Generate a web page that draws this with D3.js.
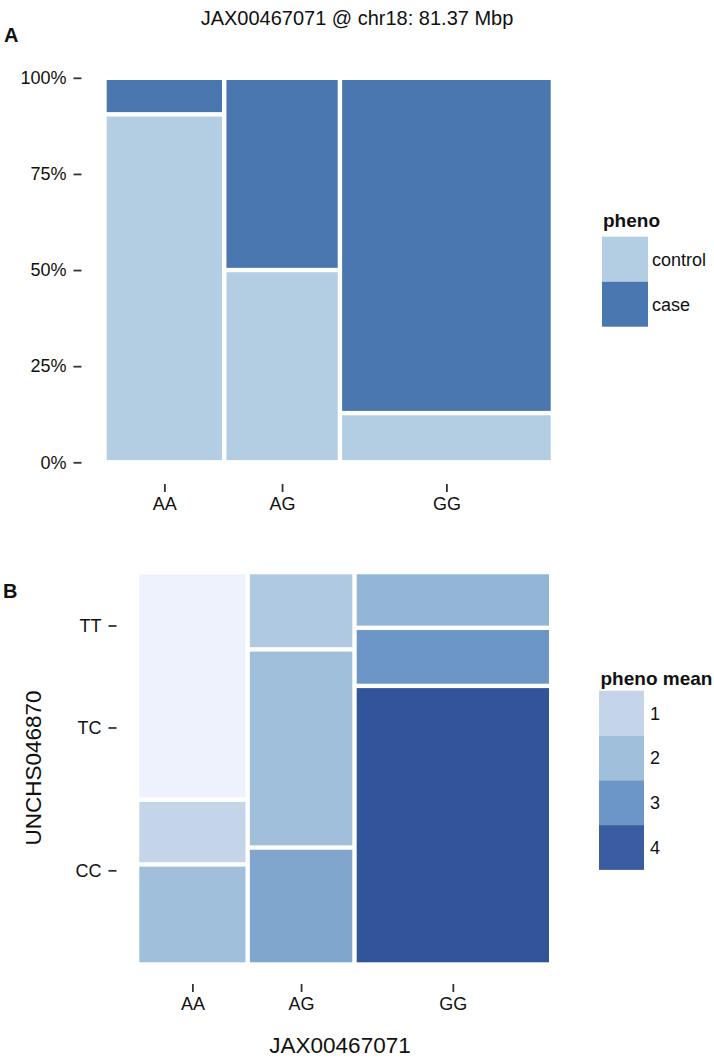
<!DOCTYPE html>
<html>
<head>
<meta charset="utf-8">
<script src="https://cdn.jsdelivr.net/npm/d3@7"></script>
<style>
  body { margin: 0; background: #fff; }
  svg { display: block; }
  text { font-family: "Liberation Sans", Arial, Helvetica, sans-serif; fill: #111; }
</style>
</head>
<body>
<svg id="chart" width="714" height="1064"></svg>
<script>
// ---------- data ----------
const titleText = "JAX00467071 @ chr18: 81.37 Mbp";
const genotypes = ["AA", "AG", "GG"];            // JAX00467071
const colShare = [0.267, 0.258, 0.475];          // column widths (share of animals)

// Panel A
const phenoLevels = ["control", "case"];
const controlShare = [0.905, 0.50, 0.128];       // share of control within each genotype
const pctTicks = [0, 0.25, 0.5, 0.75, 1];

// Panel B
const snp2Levels = ["CC", "TC", "TT"];           // UNCHS046870, bottom to top
const snp2TickPos = [0.24, 0.604, 0.864];
const aaRowShare = [0.255, 0.165, 0.580];
const agRowShare = [0.298, 0.505, 0.197];
const ggRowShare = [0.710, 0.148, 0.142];
const aaMean = [2.0, 1.0, 0.3];
const agMean = [2.6, 2.0, 1.55];
const ggMean = [4.2, 3.0, 2.25];
const meanBreaks = [1, 2, 3, 4];

// ---------- setup ----------
const svg = d3.select("#chart");
const gap = 2.2;
const tickColor = "#333";

const phenoColor = d3.scaleOrdinal().domain(phenoLevels).range(["#b3cde3", "#4a77b0"]);
const meanColor = d3.scaleLinear()
  .domain([0.3, 1, 2, 3, 4, 4.2])
  .range(["#eef2fc", "#c4d5ea", "#a0bfdb", "#6b96c6", "#3a5ca0", "#31549a"])
  .interpolate(d3.interpolateLab);

const colStart = d3.cumsum([0, ...colShare]).slice(0, colShare.length);
const colCenters = colShare.map((w, i) => colStart[i] + w / 2);

function styleAxis(g) {
  g.select(".domain").remove();
  g.selectAll(".tick line").attr("stroke", tickColor).attr("stroke-width", 1.8);
  g.selectAll(".tick text").attr("font-size", 18).attr("fill", "#111")
    .attr("font-family", '"Liberation Sans", Arial, sans-serif');
}

// ---------- title & panel tags ----------
svg.append("text").attr("x", 357).attr("y", 25).attr("text-anchor", "middle")
  .attr("font-size", 20).text(titleText);
svg.append("text").attr("x", 4).attr("y", 42).attr("font-size", 20)
  .attr("font-weight", "bold").text("A");
svg.append("text").attr("x", 3).attr("y", 598).attr("font-size", 20)
  .attr("font-weight", "bold").text("B");

// ---------- Panel A ----------
const xA = d3.scaleLinear().domain([0, 1]).range([104.5, 552.9]);
const yA = d3.scaleLinear().domain([0, 1]).range([462.3, 77.8]);

const tilesA = [];
genotypes.forEach((gt, i) => {
  const x0 = colStart[i], x1 = colStart[i] + colShare[i];
  tilesA.push({ x0, x1, y0: 0, y1: controlShare[i], pheno: "control" });
  tilesA.push({ x0, x1, y0: controlShare[i], y1: 1, pheno: "case" });
});
svg.append("g").selectAll("rect").data(tilesA).join("rect")
  .attr("x", d => xA(d.x0) + gap)
  .attr("y", d => yA(d.y1) + gap)
  .attr("width", d => xA(d.x1) - xA(d.x0) - 2 * gap)
  .attr("height", d => yA(d.y0) - yA(d.y1) - 2 * gap)
  .attr("fill", d => phenoColor(d.pheno));

svg.append("g").attr("transform", "translate(81.5,0)")
  .call(d3.axisLeft(yA).tickValues(pctTicks).tickFormat(d3.format(".0%")).tickSize(8).tickPadding(7))
  .call(styleAxis);
svg.append("g").attr("transform", "translate(0,484)")
  .call(d3.axisBottom(xA).tickValues(colCenters).tickFormat((d, i) => genotypes[i]).tickSize(8).tickPadding(5))
  .call(styleAxis);

// legend A
const legA = svg.append("g").attr("transform", "translate(602,0)");
legA.append("text").attr("x", 1).attr("y", 227).attr("font-size", 19)
  .attr("font-weight", "bold").text("pheno");
legA.selectAll("rect").data(phenoLevels).join("rect")
  .attr("x", 0).attr("y", (d, i) => 236.7 + i * 45).attr("width", 46).attr("height", 45)
  .attr("fill", d => phenoColor(d));
legA.selectAll("text.lab").data(phenoLevels).join("text").attr("class", "lab")
  .attr("x", 50).attr("y", (d, i) => 236.7 + i * 45 + 22.5 + 6.5)
  .attr("font-size", 18).text(d => d);

// ---------- Panel B ----------
const xB = d3.scaleLinear().domain([0, 1]).range([137.1, 551.2]);
const yB = d3.scaleLinear().domain([0, 1]).range([964.5, 572.1]);

const rowShares = [aaRowShare, agRowShare, ggRowShare];
const rowMeans = [aaMean, agMean, ggMean];
const tilesB = [];
genotypes.forEach((gt, i) => {
  const x0 = colStart[i], x1 = colStart[i] + colShare[i];
  const starts = d3.cumsum([0, ...rowShares[i]]);
  snp2Levels.forEach((lv, j) => {
    tilesB.push({ x0, x1, y0: starts[j], y1: starts[j + 1], mean: rowMeans[i][j] });
  });
});
svg.append("g").selectAll("rect").data(tilesB).join("rect")
  .attr("x", d => xB(d.x0) + gap)
  .attr("y", d => yB(d.y1) + gap)
  .attr("width", d => xB(d.x1) - xB(d.x0) - 2 * gap)
  .attr("height", d => yB(d.y0) - yB(d.y1) - 2 * gap)
  .attr("fill", d => meanColor(d.mean));

svg.append("g").attr("transform", "translate(116.5,0)")
  .call(d3.axisLeft(yB).tickValues(snp2TickPos).tickFormat((d, i) => snp2Levels[i]).tickSize(8).tickPadding(7))
  .call(styleAxis);
svg.append("g").attr("transform", "translate(0,984)")
  .call(d3.axisBottom(xB).tickValues(colCenters).tickFormat((d, i) => genotypes[i]).tickSize(8).tickPadding(5))
  .call(styleAxis);

svg.append("text").attr("transform", "translate(41,768) rotate(-90)")
  .attr("text-anchor", "middle").attr("font-size", 22.5).text("UNCHS046870");
svg.append("text").attr("x", 340).attr("y", 1053).attr("text-anchor", "middle")
  .attr("font-size", 22.5).text("JAX00467071");

// legend B
const legB = svg.append("g").attr("transform", "translate(599,0)");
legB.append("text").attr("x", 1.5).attr("y", 685).attr("font-size", 19)
  .attr("font-weight", "bold").text("pheno mean");
legB.selectAll("rect").data(meanBreaks).join("rect")
  .attr("x", 0).attr("y", (d, i) => 690.7 + i * 44.8).attr("width", 45).attr("height", 44.8)
  .attr("fill", d => meanColor(d));
legB.selectAll("text.lab").data(meanBreaks).join("text").attr("class", "lab")
  .attr("x", 51).attr("y", (d, i) => 690.7 + i * 44.8 + 22.4 + 6.5)
  .attr("font-size", 18).text(d => d);
</script>
</body>
</html>
